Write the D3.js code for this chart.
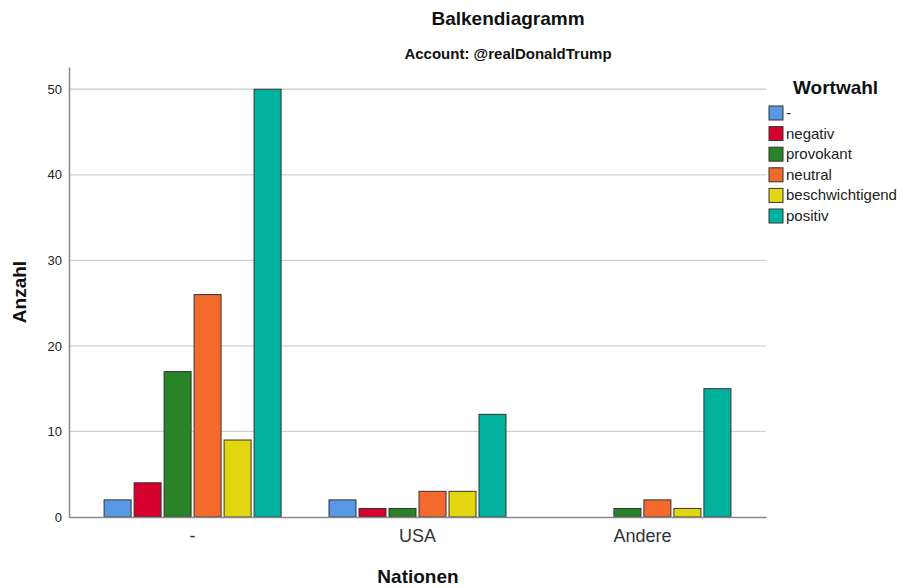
<!DOCTYPE html>
<head>
<meta charset="utf-8">
<style>
  body { margin: 0; background: #fff; font-family: "Liberation Sans", Arial, sans-serif; }
  .grid line { stroke: #d0d0d0; stroke-width: 1.3px; }
  .bar { stroke: #333; stroke-width: 1px; }
  .ytick { font-size: 13px; fill: #222; }
  .xtick { font-size: 18px; fill: #333; }
  .axistitle { font-size: 19px; font-weight: bold; fill: #111; }
  .legend text { font-size: 15px; fill: #222; }
</style>
</head>
<body>
<script src="https://d3js.org/d3.v7.min.js"></script>
<script>
// categories (x axis) and series (legend)
var nationen = ["-", "USA", "Andere"];
var wortwahl = ["-", "negativ", "provokant", "neutral", "beschwichtigend", "positiv"];
var farben = ["#5898e4", "#d6002f", "#2a8329", "#f46a2c", "#e2d70e", "#00b29e"];

// counts per series, in order of nationen
var sDash = [2, 2, 0];
var sNegativ = [4, 1, 0];
var sProvokant = [17, 1, 1];
var sNeutral = [26, 3, 2];
var sBeschw = [9, 3, 1];
var sPositiv = [50, 12, 15];
var serien = [sDash, sNegativ, sProvokant, sNeutral, sBeschw, sPositiv];

var yTicks = [0, 10, 20, 30, 40, 50];

var W = 905, H = 588;
var pLeft = 69, pRight = 766, pTop = 67, pBottom = 517;

var svg = d3.select("body").append("svg")
    .attr("width", W)
    .attr("height", H);

var x0 = d3.scaleBand()
    .domain(nationen)
    .range([pLeft, pRight])
    .paddingInner(0.213)
    .paddingOuter(0.156);

var x1 = d3.scaleBand()
    .domain(wortwahl)
    .range([0, x0.bandwidth()])
    .paddingInner(0.1)
    .paddingOuter(0);

var y = d3.scaleLinear()
    .domain([0, 52.6])
    .range([pBottom, pTop]);

// gridlines
svg.append("g").attr("class", "grid")
  .selectAll("line")
  .data(yTicks.filter(function(d) { return d > 0; }))
  .enter().append("line")
    .attr("x1", pLeft).attr("x2", pRight)
    .attr("y1", function(d) { return y(d); })
    .attr("y2", function(d) { return y(d); });

// y axis, no tick marks
var yAxis = svg.append("g")
    .attr("transform", "translate(" + pLeft + ",0)")
    .call(d3.axisLeft(y).tickValues(yTicks).tickSize(0).tickPadding(7));
yAxis.select(".domain").attr("stroke", "#8a8a8a").attr("stroke-width", 1.5);
yAxis.attr("font-family", null).attr("font-size", null);
yAxis.selectAll("text").attr("class", "ytick");

// bars
var rows = [];
nationen.forEach(function(n, i) {
  wortwahl.forEach(function(w, j) {
    rows.push({ nation: n, wort: w, wert: serien[j][i], farbe: farben[j] });
  });
});

svg.append("g").selectAll("rect")
  .data(rows.filter(function(d) { return d.wert > 0; }))
  .enter().append("rect")
    .attr("class", "bar")
    .attr("x", function(d) { return x0(d.nation) + x1(d.wort); })
    .attr("width", x1.bandwidth())
    .attr("y", function(d) { return y(d.wert); })
    .attr("height", function(d) { return y(0) - y(d.wert); })
    .attr("fill", function(d) { return d.farbe; });

// x axis
var xAxis = svg.append("g")
    .attr("transform", "translate(0," + pBottom + ")")
    .call(d3.axisBottom(x0).tickSize(0).tickPadding(12));
xAxis.select(".domain").attr("stroke", "#8a8a8a").attr("stroke-width", 1.5);
xAxis.attr("font-family", null).attr("font-size", null);
xAxis.selectAll("text").attr("class", "xtick");

// titles
svg.append("text")
    .attr("x", 508).attr("y", 25)
    .attr("text-anchor", "middle")
    .style("font-size", "19px").style("font-weight", "bold").style("fill", "#111")
    .text("Balkendiagramm");

svg.append("text")
    .attr("x", 508).attr("y", 59)
    .attr("text-anchor", "middle")
    .style("font-size", "15px").style("font-weight", "bold").style("fill", "#111")
    .text("Account: @realDonaldTrump");

svg.append("text")
    .attr("class", "axistitle")
    .attr("x", 418).attr("y", 583)
    .attr("text-anchor", "middle")
    .text("Nationen");

svg.append("text")
    .attr("class", "axistitle")
    .attr("transform", "translate(26,292) rotate(-90)")
    .attr("text-anchor", "middle")
    .text("Anzahl");

// legend
svg.append("text")
    .attr("x", 793).attr("y", 94)
    .style("font-size", "19px").style("font-weight", "bold").style("fill", "#111")
    .text("Wortwahl");

var leg = svg.append("g").attr("class", "legend")
  .selectAll("g")
  .data(wortwahl)
  .enter().append("g")
    .attr("transform", function(d, i) { return "translate(769," + (106 + i * 20.6) + ")"; });

leg.append("rect")
    .attr("width", 14).attr("height", 14)
    .attr("fill", function(d, i) { return farben[i]; })
    .attr("stroke", "#333").attr("stroke-width", 1);

leg.append("text")
    .attr("x", 17).attr("y", 12)
    .text(function(d) { return d; });
</script>
</body>
